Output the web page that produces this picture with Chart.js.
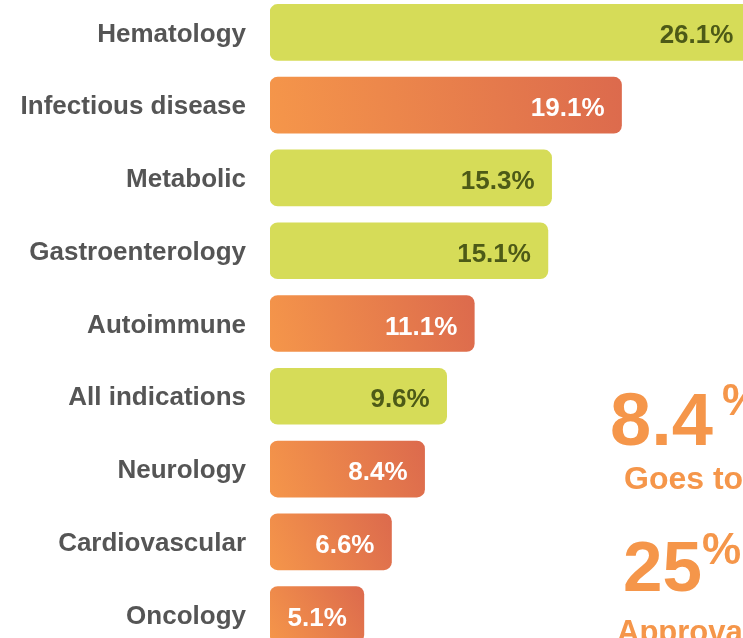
<!DOCTYPE html>
<html>
<head>
<meta charset="utf-8">
<script src="https://cdn.jsdelivr.net/npm/chart.js@4.4.1/dist/chart.umd.min.js"></script>
<style>
  html, body { margin: 0; padding: 0; background: #fff; overflow: hidden; }
  body { width: 743px; height: 638px; position: relative; font-family: "Liberation Sans", Arial, sans-serif; }
  #wrap { position: absolute; left: 0; top: -4px; width: 743px; height: 655px; }
  .big { position: absolute; color: #f5964a; font-weight: bold; line-height: 1; white-space: nowrap; }
</style>
</head>
<body>
<div id="wrap"><canvas id="chart"></canvas></div>
<div class="big" style="left:610px; top:383px; font-size:74px;">8.4</div>
<div class="big" style="left:722px; top:378px; font-size:44px;">%</div>
<div class="big" style="left:624px; top:462px; font-size:32px;">Goes to</div>
<div class="big" style="left:623px; top:531px; font-size:71px;">25</div>
<div class="big" style="left:702px; top:527px; font-size:44px;">%</div>
<div class="big" style="left:617px; top:616px; font-size:31px;">Approval</div>
<script>
// indication shares
const indications = ["Hematology", "Infectious disease", "Metabolic", "Gastroenterology", "Autoimmune", "All indications", "Neurology", "Cardiovascular", "Oncology"];
const shares = [26.1, 19.1, 15.3, 15.1, 11.1, 9.6, 8.4, 6.6, 5.1];
const barKinds = ["lime", "orange", "lime", "lime", "orange", "lime", "orange", "orange", "orange"];

const FONT = "'Liberation Sans', Arial, sans-serif";

function barColor(ctx) {
  const i = ctx.dataIndex;
  if (barKinds[i] === "lime") return "#d6dc58";
  const chart = ctx.chart;
  const xs = chart.scales.x, ys = chart.scales.y;
  if (!xs || !ys || !chart.chartArea) return "#e8804b";
  const x0 = xs.getPixelForValue(0);
  const x1 = xs.getPixelForValue(shares[i]);
  const yc = ys.getPixelForValue(i);
  const g = chart.ctx.createLinearGradient(x0, yc + 28, x1, yc - 28);
  g.addColorStop(0, "#f5964a");
  g.addColorStop(1, "#dc6a4d");
  return g;
}

// value labels drawn inside the bar end
const valueLabels = {
  id: "valueLabels",
  afterDatasetsDraw(chart) {
    const ctx = chart.ctx;
    const xs = chart.scales.x, ys = chart.scales.y;
    ctx.save();
    ctx.font = "bold 26px " + FONT;
    ctx.textAlign = "right";
    ctx.textBaseline = "alphabetic";
    shares.forEach((v, i) => {
      const x = xs.getPixelForValue(v) - 17;
      const y = ys.getPixelForValue(i) + 11;
      ctx.fillStyle = barKinds[i] === "lime" ? "#4d5a17" : "#ffffff";
      ctx.fillText(v.toFixed(1) + "%", x, y);
    });
    ctx.restore();
  }
};

new Chart(document.getElementById("chart"), {
  type: "bar",
  data: {
    labels: indications,
    datasets: [{
      data: shares,
      backgroundColor: barColor,
      borderRadius: 8,
      borderSkipped: false,
      barThickness: 56
    }]
  },
  options: {
    indexAxis: "y",
    responsive: true,
    maintainAspectRatio: false,
    animation: false,
    layout: { padding: 0 },
    plugins: { legend: { display: false }, tooltip: { enabled: false } },
    scales: {
      x: { display: false, min: 0, max: 25.7 },
      y: {
        grid: { display: false, drawTicks: false },
        border: { display: false },
        afterFit(scale) {
          scale.width = 270;
          scale.paddingTop = 0;
          scale.paddingBottom = 0;
        },
        ticks: {
          padding: 24,
          labelOffset: 2,
          color: "#555555",
          font: { family: FONT, size: 26, weight: "bold" }
        }
      }
    }
  },
  plugins: [valueLabels]
});
</script>
</body>
</html>
